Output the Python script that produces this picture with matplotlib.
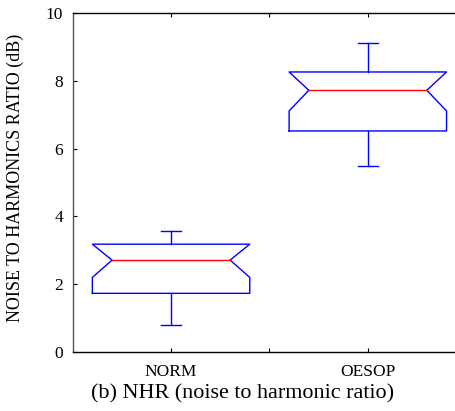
import numpy as np
import matplotlib.pyplot as plt

plt.rcParams['font.family'] = ['Liberation Serif', 'DejaVu Serif']

groups = ['NORM', 'OESOP']
whis_lo = [0.80, 5.49]
q1 = [1.73, 6.52]
med = [2.71, 7.72]
q3 = [3.18, 8.26]
whis_hi = [3.58, 9.12]
notch_lo = [2.20, 7.11]
notch_hi = [3.22, 8.33]

fig = plt.figure(figsize=(4.56, 4.11), dpi=100)
ax = fig.add_axes([0.1594, 0.1436, 0.863, 0.8248])

half_w = 0.40   # half box width
notch_w = 0.30  # half width at the median
cap_w = 0.05

for i, name in enumerate(groups):
    x = i + 1
    lo, hi = notch_lo[i], min(notch_hi[i], q3[i])
    bx = [x - half_w, x + half_w, x + half_w, x + notch_w, x + half_w, x + half_w,
          x - half_w, x - half_w, x - notch_w, x - half_w, x - half_w]
    by = [q1[i], q1[i], lo, med[i], hi, q3[i],
          q3[i], hi, med[i], lo, q1[i]]
    ax.plot(bx, by, color='#0000ff', lw=1)
    ax.plot([x - notch_w, x + notch_w], [med[i], med[i]], color='#ff0000', lw=1)
    # whiskers and caps
    ax.plot([x, x], [q3[i], whis_hi[i]], color='#0000ff', lw=1)
    ax.plot([x, x], [q1[i], whis_lo[i]], color='#0000ff', lw=1)
    ax.plot([x - cap_w, x + cap_w], [whis_hi[i], whis_hi[i]], color='#0000ff', lw=1)
    ax.plot([x - cap_w, x + cap_w], [whis_lo[i], whis_lo[i]], color='#0000ff', lw=1)

ax.set_xlim(0.5, 2.5)
ax.set_ylim(0, 10)
ax.set_xticks([1, 1.5, 2])
ax.set_xticklabels(['NORM', '', 'OESOP'])
ax.set_yticks(np.arange(0, 11, 2))
ax.tick_params(direction='in', length=3, width=0.8, top=True, right=False,
               labelsize=12.5)
ax.tick_params(axis='y', pad=7)
ax.tick_params(axis='x', pad=9)
ax.spines['right'].set_visible(False)
ax.spines['left'].set_color('#555555')
for s in ax.spines.values():
    s.set_linewidth(1)
ax.set_ylabel('NOISE TO HARMONICS RATIO (dB)', fontsize=13)
ax.yaxis.set_label_coords(-0.123, 0.515)
fig.text(0.531, 0.041, '(b) NHR (noise to harmonic ratio)', ha='center',
         va='center', fontsize=15.9)

fig.savefig('out.png', dpi=100)
